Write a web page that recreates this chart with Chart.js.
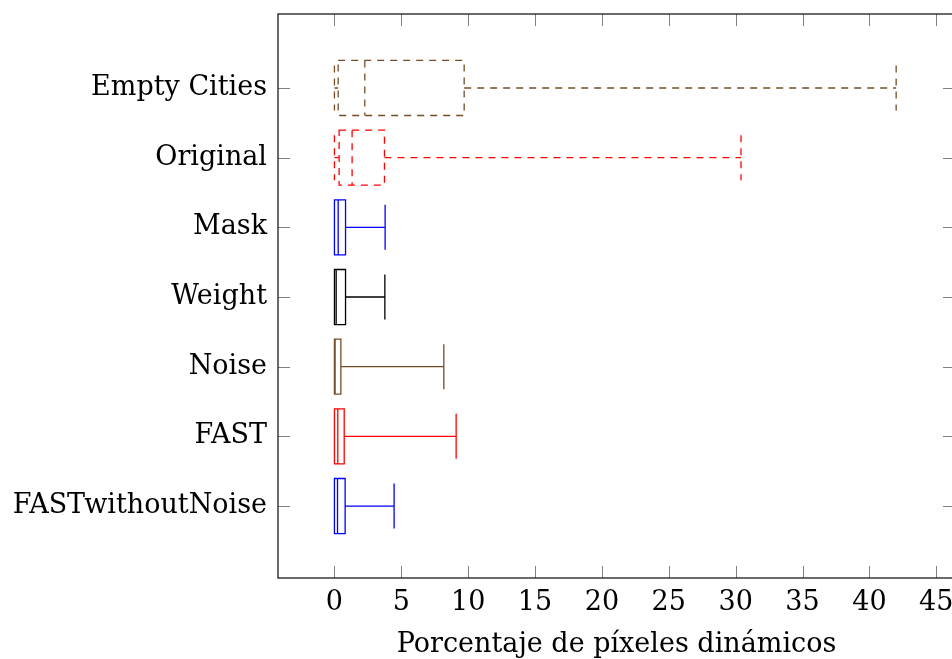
<!DOCTYPE html>
<html>
<head>
<meta charset="utf-8">
<script src="https://cdn.jsdelivr.net/npm/chart.js@4"></script>
<style>
  html, body { margin: 0; padding: 0; background: #fff; overflow: hidden; }
</style>
</head>
<body>
<canvas id="box-chart" width="960" height="672"></canvas>
<script>
// Box plot: dynamic pixel percentage per method
const categories  = ['Empty Cities', 'Original', 'Mask', 'Weight', 'Noise', 'FAST', 'FASTwithoutNoise'];
const lowWhisker  = [0, 0, 0, 0, 0, 0, 0];
const q1          = [0.28, 0.35, 0.0, 0.0, 0.0, 0.0, 0.0];
const median      = [2.27, 1.32, 0.28, 0.13, 0.05, 0.25, 0.23];
const q3          = [9.7, 3.74, 0.83, 0.83, 0.48, 0.73, 0.8];
const highWhisker = [42.0, 30.4, 3.79, 3.77, 8.18, 9.1, 4.46];
const xTicks      = [0, 5, 10, 15, 20, 25, 30, 35, 40, 45];

// styles per box
const BROWN = '#734d26';
const boxColors = [BROWN, '#ff0000', '#0000ff', '#000000', BROWN, '#ff0000', '#0000ff'];
const boxDashed = [true, true, false, false, false, false, false];

const FONT = { family: '"DejaVu Serif", "Liberation Serif", serif', size: 27 };
const BOX_HALF = 0.395;   // in category units
const CAP_HALF = 0.323;
const TICK_LEN = 12;

const boxPlotPlugin = {
  id: 'boxPlot',
  afterDraw(chart) {
    const { ctx, chartArea: a, scales: { x, y } } = chart;
    ctx.save();

    // inner ticks (all four sides, like pgfplots)
    ctx.strokeStyle = '#808080';
    ctx.lineWidth = 1;
    ctx.beginPath();
    xTicks.forEach(v => {
      const px = Math.round(x.getPixelForValue(v)) + 0.5;
      ctx.moveTo(px, a.bottom); ctx.lineTo(px, a.bottom - TICK_LEN);
      ctx.moveTo(px, a.top);    ctx.lineTo(px, a.top + TICK_LEN);
    });
    categories.forEach((_, i) => {
      const py = Math.round(y.getPixelForValue(i + 1)) + 0.5;
      ctx.moveTo(a.left, py);  ctx.lineTo(a.left + TICK_LEN, py);
      ctx.moveTo(a.right, py); ctx.lineTo(a.right - TICK_LEN, py);
    });
    ctx.stroke();

    // axis frame
    ctx.strokeStyle = '#1a1a1a';
    ctx.lineWidth = 1.3;
    ctx.strokeRect(a.left, a.top, a.right - a.left, a.bottom - a.top);

    // boxes
    ctx.lineWidth = 1.3;
    categories.forEach((_, i) => {
      const c = i + 1;
      const yc = y.getPixelForValue(c);
      const yb0 = y.getPixelForValue(c - BOX_HALF), yb1 = y.getPixelForValue(c + BOX_HALF);
      const yw0 = y.getPixelForValue(c - CAP_HALF), yw1 = y.getPixelForValue(c + CAP_HALF);
      const xl = x.getPixelForValue(lowWhisker[i]);
      const x1 = x.getPixelForValue(q1[i]);
      const xm = x.getPixelForValue(median[i]);
      const x3 = x.getPixelForValue(q3[i]);
      const xh = x.getPixelForValue(highWhisker[i]);

      ctx.strokeStyle = boxColors[i];
      ctx.setLineDash(boxDashed[i] ? [7, 6] : []);

      ctx.beginPath();
      ctx.rect(x1, yb0, x3 - x1, yb1 - yb0);
      ctx.moveTo(xm, yb0); ctx.lineTo(xm, yb1);
      // whiskers
      ctx.moveTo(x3, yc); ctx.lineTo(xh, yc);
      ctx.moveTo(xh, yw0); ctx.lineTo(xh, yw1);
      ctx.moveTo(x1, yc); ctx.lineTo(xl, yc);
      ctx.moveTo(xl, yw0); ctx.lineTo(xl, yw1);
      ctx.stroke();
    });

    ctx.restore();
  }
};

new Chart(document.getElementById('box-chart'), {
  type: 'scatter',
  data: { datasets: [{ data: [], pointRadius: 0 }] },
  options: {
    responsive: false,
    animation: false,
    layout: { padding: { left: 0, top: 14, right: 5, bottom: 0 } },
    plugins: { legend: { display: false }, tooltip: { enabled: false } },
    scales: {
      x: {
        type: 'linear',
        min: -4.22,
        max: 46.4,
        afterBuildTicks: s => { s.ticks = xTicks.map(v => ({ value: v })); },
        afterFit: s => { s.height = 94; s.paddingLeft = 0; s.paddingRight = 0; },
        grid: { display: false, drawTicks: false },
        border: { display: false },
        ticks: { color: '#000', font: FONT, padding: 9, maxRotation: 0 },
        title: {
          display: true,
          text: 'Porcentaje de píxeles dinámicos',
          color: '#000',
          font: FONT,
          padding: { top: 0, bottom: 11 }
        }
      },
      y: {
        type: 'linear',
        reverse: true,
        min: -0.062,
        max: 8.033,
        afterBuildTicks: s => { s.ticks = categories.map((_, i) => ({ value: i + 1 })); },
        afterFit: s => { s.width = 278; s.paddingTop = 0; s.paddingBottom = 0; },
        grid: { display: false, drawTicks: false },
        border: { display: false },
        ticks: {
          color: '#000',
          font: FONT,
          padding: 11,
          callback: v => categories[v - 1]
        }
      }
    }
  },
  plugins: [boxPlotPlugin]
});
</script>
</body>
</html>
